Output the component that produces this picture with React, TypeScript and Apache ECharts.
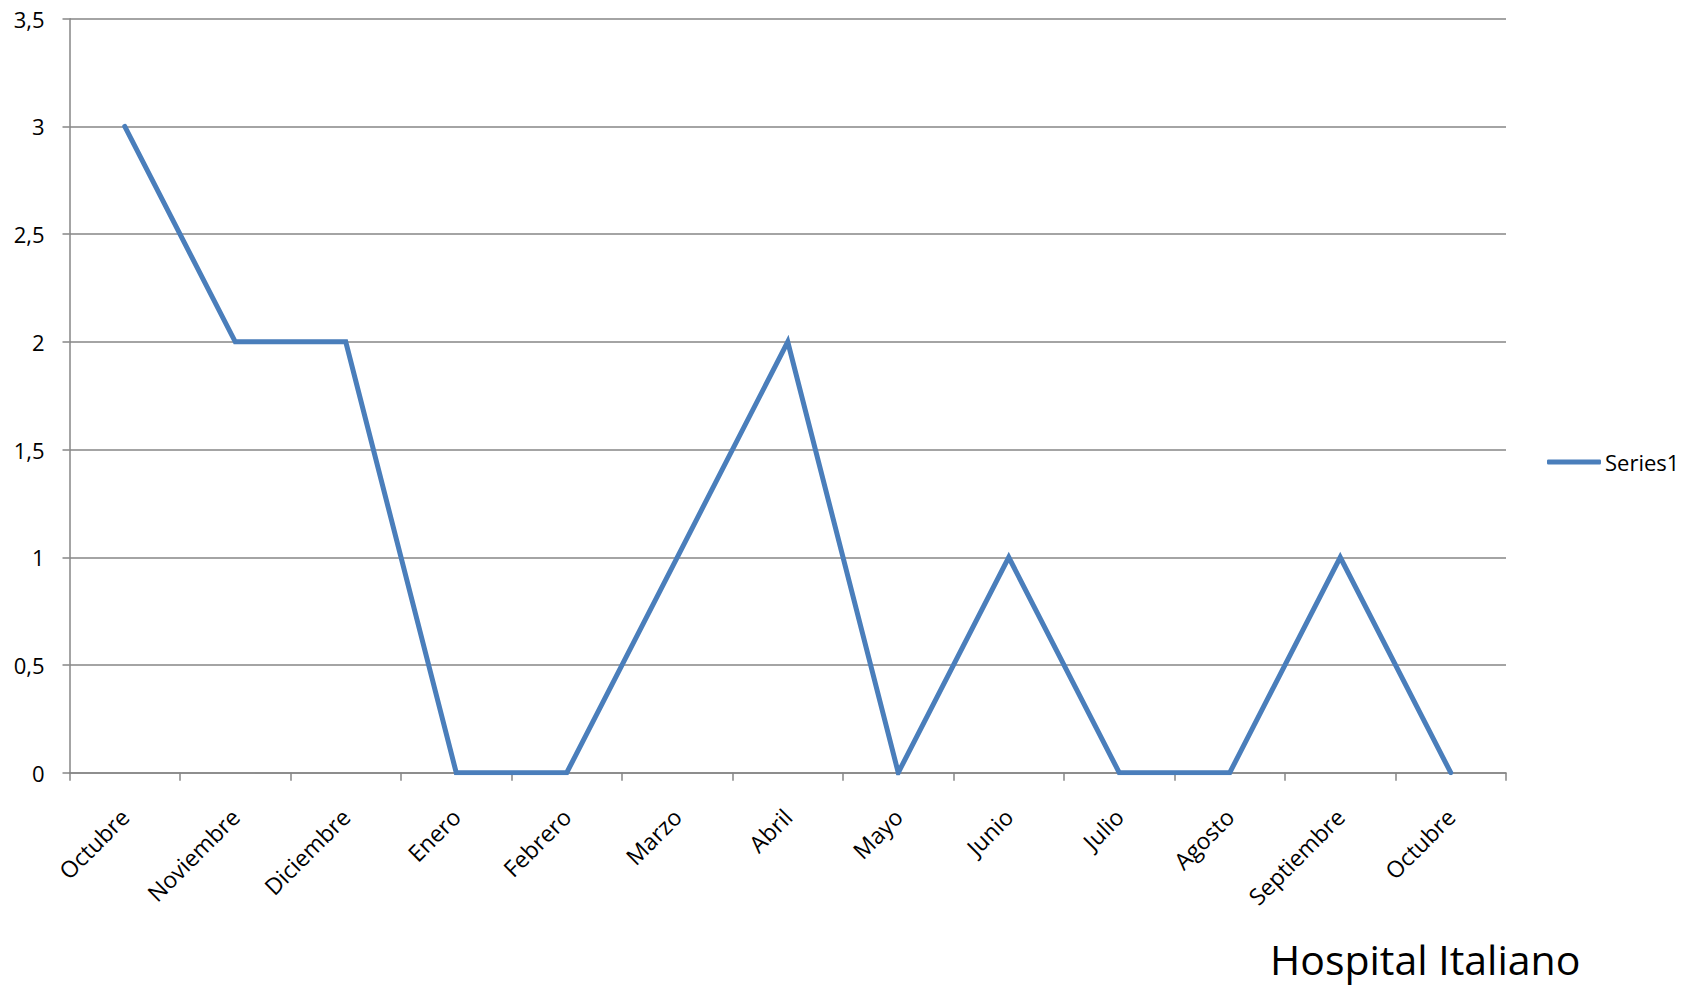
import React, { useEffect, useRef } from "react";
import * as echarts from "echarts";

const categories = ["Octubre", "Noviembre", "Diciembre", "Enero", "Febrero", "Marzo", "Abril", "Mayo", "Junio", "Julio", "Agosto", "Septiembre", "Octubre"];
const series1 = [3, 2, 2, 0, 0, 1, 2, 0, 1, 0, 0, 1, 0];
const seriesName = "Series1";
const chartTitle = "Hospital Italiano";

const FONT = "Open Sans";

export default function App() {
  const ref = useRef<HTMLDivElement>(null);
  useEffect(() => {
    if (!ref.current) return;
    const chart = echarts.init(ref.current, undefined, { renderer: "svg" });
    chart.setOption({
      animation: false,
      backgroundColor: "#ffffff",
      textStyle: { fontFamily: FONT },
      title: {
        text: chartTitle,
        left: 1270,
        top: 938,
        padding: 0,
        textStyle: { fontFamily: FONT, fontSize: 41, lineHeight: 42, fontWeight: "normal", color: "#000000" },
      },
      legend: {
        data: [{ name: seriesName, icon: "roundRect" }],
        left: 1547,
        top: 451,
        padding: 0,
        itemWidth: 54,
        itemHeight: 5,
        itemGap: 4,
        textStyle: { fontFamily: FONT, fontSize: 22, color: "#000000", padding: [0, 0, 0, -1] },
      },
      grid: { left: 69.5, right: 192, top: 18.7, bottom: 218.3 },
      xAxis: {
        type: "category",
        data: categories,
        boundaryGap: true,
        axisLine: { lineStyle: { color: "#868686", width: 1.5 } },
        axisTick: { show: true, interval: 0, length: 8, lineStyle: { color: "#868686", width: 1.5 } },
        axisLabel: {
          interval: 0,
          rotate: 45,
          margin: 40,
          fontFamily: FONT,
          fontSize: 23,
          color: "#000000",
        },
        splitLine: { show: false },
      },
      yAxis: {
        type: "value",
        min: 0,
        max: 3.5,
        interval: 0.5,
        axisLine: { show: true, lineStyle: { color: "#868686", width: 1.5 } },
        axisTick: { show: true, length: 7, lineStyle: { color: "#868686", width: 1.5 } },
        axisLabel: {
          margin: 25,
          fontFamily: FONT,
          fontSize: 22,
          color: "#000000",
          formatter: (v: number) => String(v).replace(".", ","),
        },
        splitLine: { show: true, lineStyle: { color: "#868686", width: 1.5 } },
      },
      series: [
        {
          name: seriesName,
          type: "line",
          data: series1,
          symbol: "none",
          lineStyle: { color: "#4a7ebb", width: 5, cap: "round", join: "miter" },
          itemStyle: { color: "#4a7ebb" },
        },
      ],
    });
    return () => chart.dispose();
  }, []);
  return <div ref={ref} style={{ position: "fixed", left: 0, top: 0, width: 1698, height: 991 }} />;
}
